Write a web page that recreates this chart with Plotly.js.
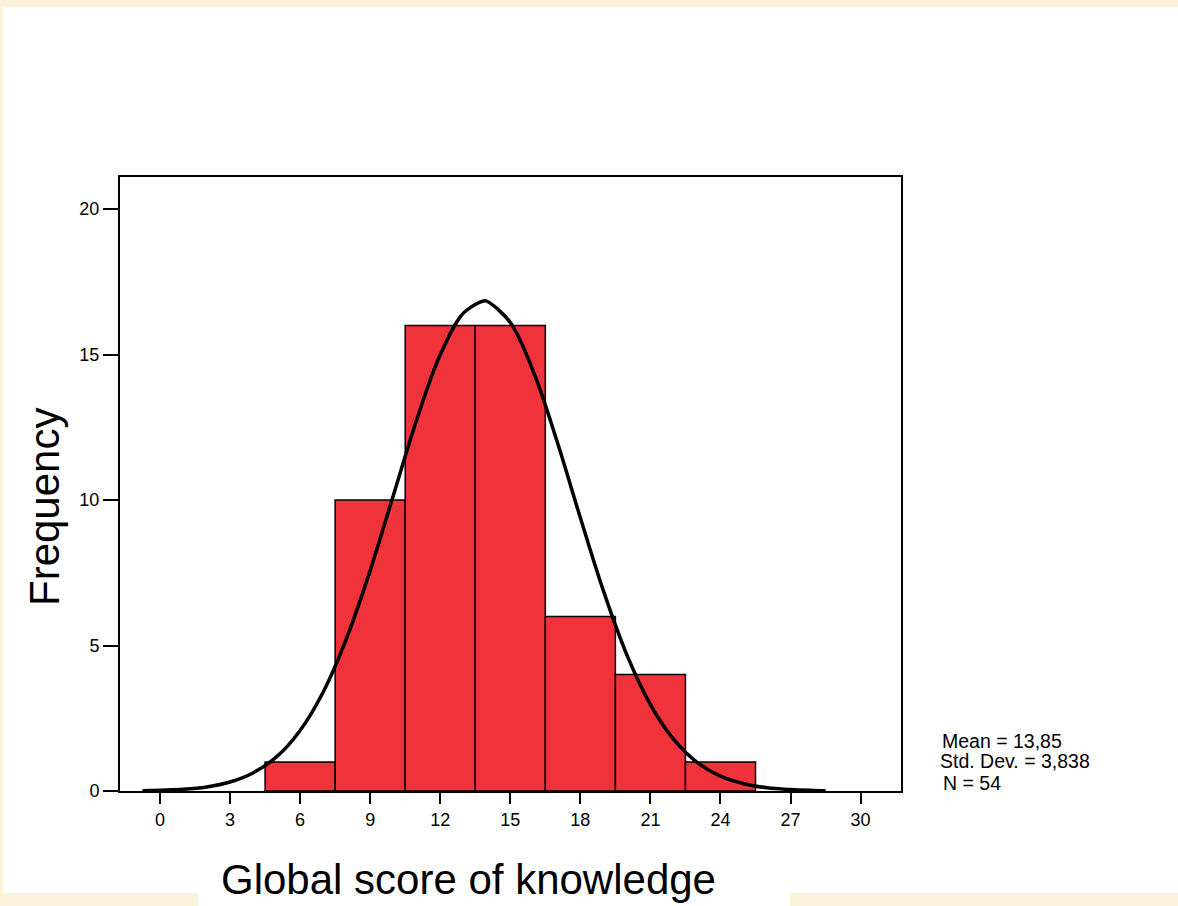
<!DOCTYPE html>
<html>
<head>
<meta charset="utf-8">
<script src="https://cdn.plot.ly/plotly-3.0.1.min.js"></script>
<style>
  html, body { margin: 0; padding: 0; background: #fcf1d9; }
  #chart { width: 1178px; height: 906px; }
</style>
</head>
<body>
<div id="chart"></div>
<script>
// Histogram bins (bin centers, width 3) and frequencies
var binCenters = [6, 9, 12, 15, 18, 21, 24];
var frequencies = [1, 10, 16, 16, 6, 4, 1];

// Normal curve
var curveX = [-0.75, 0, 1, 2, 3, 4, 5, 6, 7, 8, 9, 10, 11, 12, 13, 13.85, 14, 15, 16, 17, 18, 19, 20, 21, 22, 23, 24, 25, 26, 27, 28, 28.5];
var curveY = [0.01, 0.03, 0.06, 0.14, 0.31, 0.63, 1.18, 2.08, 3.42, 5.27, 7.58, 10.18, 12.78, 14.99, 16.43, 16.84, 16.83, 16.10, 14.39, 12.02, 9.39, 6.85, 4.66, 2.97, 1.77, 0.98, 0.51, 0.25, 0.11, 0.05, 0.02, 0.01];

var xTicks = [0, 3, 6, 9, 12, 15, 18, 21, 24, 27, 30];
var yTicks = [0, 5, 10, 15, 20];
var statLines = ["Mean = 13,85", "Std. Dev. = 3,838", "N = 54"];
var xTitle = 'Global score of knowledge';
var yTitle = 'Frequency';

var W = 1178, H = 906;
var M = {l: 120, r: 277, t: 177, b: 115};
var pw = W - M.l - M.r, ph = H - M.t - M.b;
function px(x) { return (x - M.l) / pw; }
function py(y) { return (H - M.b - y) / ph; }

var font = '"Liberation Sans", Arial, sans-serif';

var traces = [
  {
    type: 'bar',
    x: binCenters,
    y: frequencies,
    width: 3,
    marker: {color: '#f0333a', line: {color: '#000000', width: 1.5}},
    hoverinfo: 'x+y'
  },
  {
    type: 'scatter',
    mode: 'lines',
    x: curveX,
    y: curveY,
    line: {color: '#000000', width: 3.5, shape: 'spline', smoothing: 1},
    hoverinfo: 'skip'
  }
];

var annotations = statLines.map(function (t, i) {
  var xs = [940, 938, 941];
  var ys = [741, 761, 783];
  return {
    text: t, xref: 'paper', yref: 'paper',
    x: px(xs[i]), y: py(ys[i]), xanchor: 'left', yanchor: 'middle',
    showarrow: false, font: {family: font, size: 19.5, color: '#000'}
  };
});
annotations.push({
  text: xTitle, xref: 'paper', yref: 'paper',
  x: px(468), y: py(905), xanchor: 'center', yanchor: 'bottom',
  showarrow: false, font: {family: font, size: 42, color: '#000'}
});
annotations.push({
  text: yTitle, xref: 'paper', yref: 'paper', textangle: -90,
  x: px(44), y: py(507), xanchor: 'center', yanchor: 'middle',
  showarrow: false, font: {family: font, size: 42, color: '#000'}
});

var layout = {
  width: W, height: H,
  margin: M,
  paper_bgcolor: '#fcf1d9',
  plot_bgcolor: '#ffffff',
  showlegend: false,
  bargap: 0,
  font: {family: font, color: '#000'},
  xaxis: {
    range: [-1.713, 31.73],
    tickvals: xTicks,
    ticktext: xTicks.map(String),
    ticks: 'outside', ticklen: 11, tickwidth: 2, tickcolor: '#000',
    tickfont: {family: font, size: 18, color: '#000'},
    showline: true, linecolor: '#000', linewidth: 2, mirror: true,
    showgrid: false, zeroline: false,
    automargin: false
  },
  yaxis: {
    range: [0, 21.1],
    tickvals: yTicks,
    ticktext: yTicks.map(String),
    ticks: 'outside', ticklen: 15, tickwidth: 2, tickcolor: '#000',
    tickfont: {family: font, size: 18, color: '#000'},
    showline: true, linecolor: '#000', linewidth: 2, mirror: true,
    showgrid: false, zeroline: false,
    automargin: false
  },
  annotations: annotations,
  shapes: [
    {type: 'rect', xref: 'paper', yref: 'paper', layer: 'below',
     x0: px(3), x1: px(1178), y0: py(893), y1: py(7),
     fillcolor: '#ffffff', line: {width: 0}},
    {type: 'rect', xref: 'paper', yref: 'paper', layer: 'below',
     x0: px(198), x1: px(790), y0: py(906), y1: py(892),
     fillcolor: '#ffffff', line: {width: 0}}
  ]
};

Plotly.newPlot('chart', traces, layout, {displayModeBar: false, staticPlot: true});
</script>
</body>
</html>
